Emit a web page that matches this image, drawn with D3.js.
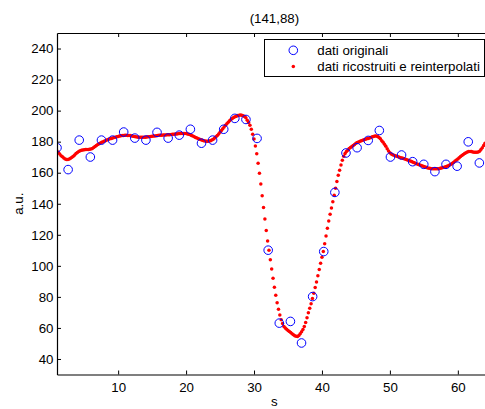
<!DOCTYPE html>
<html>
<head>
<meta charset="utf-8">
<script src="https://cdn.jsdelivr.net/npm/d3@7"></script>
<style>
  html, body { margin: 0; padding: 0; background: #fff; }
  svg { display: block; font-family: "Liberation Sans", Arial, Helvetica, sans-serif; }
</style>
</head>
<body>
<svg id="chart" width="485" height="409"></svg>
<script>
// Profile at pixel (141,88): original samples and the reconstructed, re-interpolated signal
const titleText = "(141,88)";
const xLabel = "s";
const yLabel = "a.u.";
const legendLabels = ["dati originali", "dati ricostruiti e reinterpolati"];

const xTicks = [10, 20, 30, 40, 50, 60];
const yTicks = [40, 60, 80, 100, 120, 140, 160, 180, 200, 220, 240];

// original samples, regularly spaced starting at s = 1
const origStart = 1;
const origStep = 1.636;
const original = [
  176.1, 162.0, 181.0, 170.1, 181.0, 181.0, 186.2, 182.3, 181.0, 186.0,
  182.3, 184.2, 188.0, 179.0, 181.0, 188.0, 195.0, 194.3, 182.1, 110.1,
  63.1, 64.2, 50.3, 80.2, 109.2, 147.3, 172.7, 176.1, 180.8, 187.2,
  170.1, 171.4, 167.1, 165.4, 160.7, 165.4, 164.2, 179.9, 166.3
];

// reconstructed signal on a fine grid, s = 1.0, 1.2, ... 64.0 (one row per unit of s)
const fineStart = 1;
const fineStep = 0.2;
const reconstructed = [
  174.0, 173.0, 172.0, 171.0, 170.2,   // 1
  169.4, 168.9, 168.5, 168.5, 168.8,   // 2
  169.3, 169.9, 170.6, 171.4, 172.3,   // 3
  173.0, 173.6, 174.2, 174.5, 174.7,   // 4
  174.8, 174.9, 175.0, 175.0, 175.1,   // 5
  175.2, 175.6, 176.2, 176.9, 177.6,   // 6
  178.1, 178.6, 179.1, 179.6, 180.0,   // 7
  180.4, 180.8, 181.2, 181.5, 181.8,   // 8
  182.0, 182.3, 182.6, 182.9, 183.2,   // 9
  183.4, 183.6, 183.8, 183.9, 184.0,   // 10
  184.1, 184.1, 184.0, 184.0, 183.9,   // 11
  183.7, 183.5, 183.3, 183.2, 183.0,   // 12
  182.9, 182.8, 182.8, 182.8, 182.8,   // 13
  182.9, 183.0, 183.1, 183.2, 183.4,   // 14
  183.5, 183.6, 183.7, 183.8, 184.0,   // 15
  184.1, 184.2, 184.2, 184.3, 184.3,   // 16
  184.3, 184.4, 184.4, 184.5, 184.6,   // 17
  184.7, 184.8, 184.9, 185.0, 185.1,   // 18
  185.2, 185.3, 185.3, 185.3, 185.3,   // 19
  185.2, 185.0, 184.7, 184.4, 184.0,   // 20
  183.6, 183.2, 182.7, 182.3, 181.9,   // 21
  181.5, 181.2, 180.9, 180.6, 180.4,   // 22
  180.3, 180.3, 180.4, 180.6, 181.0,   // 23
  181.6, 182.3, 183.1, 184.0, 185.0,   // 24
  186.1, 187.2, 188.3, 189.4, 190.5,   // 25
  191.5, 192.5, 193.4, 194.2, 194.9,   // 26
  195.5, 196.0, 196.4, 196.8, 197.0,   // 27
  197.1, 197.0, 196.7, 196.2, 195.4,   // 28
  193.8, 192.3, 190.6, 188.0, 184.7,   // 29
  181.7, 177.2, 172.2, 166.1, 159.7,   // 30
  152.8, 145.1, 137.6, 130.2, 122.7,   // 31
  116.0, 110.0, 104.0, 98.0, 92.0,     // 32
  86.2, 81.0, 76.2, 72.0, 68.3,        // 33
  65.2, 62.8, 61.0, 60.0, 59.2,        // 34
  58.4, 57.7, 57.0, 56.3, 55.6,        // 35
  55.0, 54.6, 54.5, 55.2, 56.2,        // 36
  57.5, 59.0, 61.0, 63.5, 66.5,        // 37
  69.8, 72.7, 75.6, 79.0, 82.4,        // 38
  86.0, 89.6, 93.6, 97.6, 101.6,       // 39
  105.5, 109.2, 114.2, 119.3, 124.2,   // 40
  128.9, 133.2, 137.3, 141.3, 145.4,   // 41
  150.0, 154.3, 158.3, 161.6, 165.0,   // 42
  168.0, 170.6, 172.4, 173.6, 174.5,   // 43
  175.6, 176.3, 176.9, 177.5, 178.1,   // 44
  178.9, 179.4, 179.8, 180.2, 180.6,   // 45
  180.9, 181.2, 181.5, 181.8, 182.1,   // 46
  182.4, 182.7, 183.1, 183.4, 183.6,   // 47
  183.6, 183.3, 182.7, 181.8, 180.6,   // 48
  179.6, 178.4, 177.0, 175.4, 174.0,   // 49
  172.9, 172.1, 171.6, 171.2, 170.9,   // 50
  170.6, 170.3, 170.0, 169.7, 169.4,   // 51
  169.1, 168.8, 168.5, 168.2, 167.9,   // 52
  167.6, 167.2, 166.8, 166.4, 166.0,   // 53
  165.6, 165.3, 165.0, 164.7, 164.3,   // 54
  164.0, 163.7, 163.4, 163.1, 162.9,   // 55
  162.7, 162.6, 162.5, 162.5, 162.5,   // 56
  162.5, 162.6, 162.8, 163.0, 163.3,   // 57
  163.5, 163.8, 164.1, 164.5, 165.0,   // 58
  165.5, 166.1, 166.8, 167.5, 168.2,   // 59
  168.9, 169.6, 170.4, 171.1, 171.8,   // 60
  172.4, 172.9, 173.3, 173.6, 173.7,   // 61
  173.6, 173.4, 173.2, 173.1, 173.1,   // 62
  173.3, 173.9, 174.9, 176.1, 177.5,   // 63
  179.0                                // 64
];

const xDomain = [1, 65];
const yDomain = [30, 250];

const svg = d3.select("#chart");
const plot = { left: 57, right: 491.8, top: 33, bottom: 374.5 };

const x = d3.scaleLinear().domain(xDomain).range([plot.left, plot.right]);
const y = d3.scaleLinear().domain(yDomain).range([plot.bottom, plot.top]);

const fontSize = 13.3;
const tickLen = 4;
const dotR = 1.75;
const ringR = 4.3;

// plot area background
svg.append("rect")
  .attr("x", plot.left).attr("y", plot.top)
  .attr("width", plot.right - plot.left).attr("height", plot.bottom - plot.top)
  .attr("fill", "#fff");

svg.append("clipPath").attr("id", "plotclip")
  .append("rect")
  .attr("x", plot.left).attr("y", plot.top)
  .attr("width", plot.right - plot.left).attr("height", plot.bottom - plot.top);

const marks = svg.append("g").attr("clip-path", "url(#plotclip)");

// reconstructed signal: dense red dots
const fineData = reconstructed.map((v, i) => ({ s: fineStart + i * fineStep, v }));
marks.append("g")
  .selectAll("circle")
  .data(fineData)
  .join("circle")
  .attr("cx", d => x(d.s))
  .attr("cy", d => y(d.v))
  .attr("r", dotR)
  .attr("fill", "#ff0000");

// original samples: open blue circles
const origData = original.map((v, i) => ({ s: origStart + i * origStep, v }));
marks.append("g")
  .selectAll("circle")
  .data(origData)
  .join("circle")
  .attr("cx", d => x(d.s))
  .attr("cy", d => y(d.v))
  .attr("r", ringR)
  .attr("fill", "none")
  .attr("stroke", "#0000ff")
  .attr("stroke-width", 1);

// axes (ticks point inward, box closed on all sides)
function styleAxis(g) {
  g.selectAll("path.domain").attr("stroke", "#000").attr("stroke-width", 1.2);
  g.selectAll(".tick line").attr("stroke", "#000").attr("stroke-width", 1);
  g.selectAll(".tick text")
    .attr("fill", "#000")
    .style("font-size", fontSize + "px")
    .style("font-family", "'Liberation Sans', Arial, Helvetica, sans-serif");
}

svg.append("g")
  .attr("transform", `translate(0,${plot.bottom})`)
  .call(d3.axisBottom(x).tickValues(xTicks).tickFormat(d3.format("d"))
    .tickSizeInner(-tickLen).tickSizeOuter(0).tickPadding(8.3))
  .call(styleAxis);

svg.append("g")
  .attr("transform", `translate(0,${plot.top})`)
  .call(d3.axisTop(x).tickValues(xTicks).tickFormat("")
    .tickSizeInner(-tickLen).tickSizeOuter(0))
  .call(styleAxis);

svg.append("g")
  .attr("transform", `translate(${plot.left},0)`)
  .call(d3.axisLeft(y).tickValues(yTicks).tickFormat(d3.format("d"))
    .tickSizeInner(-tickLen).tickSizeOuter(0).tickPadding(3.5))
  .call(styleAxis);

svg.append("g")
  .attr("transform", `translate(${plot.right},0)`)
  .call(d3.axisRight(y).tickValues(yTicks).tickFormat("")
    .tickSizeInner(-tickLen).tickSizeOuter(0))
  .call(styleAxis);

// title and axis labels
const cx = (plot.left + plot.right) / 2;
const cy = (plot.top + plot.bottom) / 2;

svg.append("text")
  .attr("x", cx).attr("y", 22.5)
  .attr("text-anchor", "middle")
  .style("font-size", fontSize + "px")
  .attr("fill", "#000")
  .text(titleText);

svg.append("text")
  .attr("x", cx).attr("y", 406)
  .attr("text-anchor", "middle")
  .style("font-size", fontSize + "px")
  .attr("fill", "#000")
  .text(xLabel);

svg.append("text")
  .attr("transform", `translate(23,${cy}) rotate(-90)`)
  .attr("text-anchor", "middle")
  .style("font-size", fontSize + "px")
  .attr("fill", "#000")
  .text(yLabel);

// legend box in the upper right corner
const legend = svg.append("g");
const lg = { x: 264.5, y: 39.5, w: 220, h: 37 };
legend.append("rect")
  .attr("x", lg.x).attr("y", lg.y)
  .attr("width", lg.w).attr("height", lg.h)
  .attr("fill", "#fff")
  .attr("stroke", "#000")
  .attr("stroke-width", 1);

const markerX = 293.3;
const textX = 317.3;
const rowY = [50.3, 66.5];

legend.append("circle")
  .attr("cx", markerX).attr("cy", rowY[0])
  .attr("r", ringR)
  .attr("fill", "none")
  .attr("stroke", "#0000ff")
  .attr("stroke-width", 1);

legend.append("circle")
  .attr("cx", markerX).attr("cy", rowY[1])
  .attr("r", dotR)
  .attr("fill", "#ff0000");

legend.selectAll("text.entry")
  .data(legendLabels)
  .join("text")
  .attr("class", "entry")
  .attr("x", textX)
  .attr("y", (d, i) => rowY[i])
  .attr("dy", "0.35em")
  .style("font-size", fontSize + "px")
  .attr("fill", "#000")
  .text(d => d);
</script>
</body>
</html>
